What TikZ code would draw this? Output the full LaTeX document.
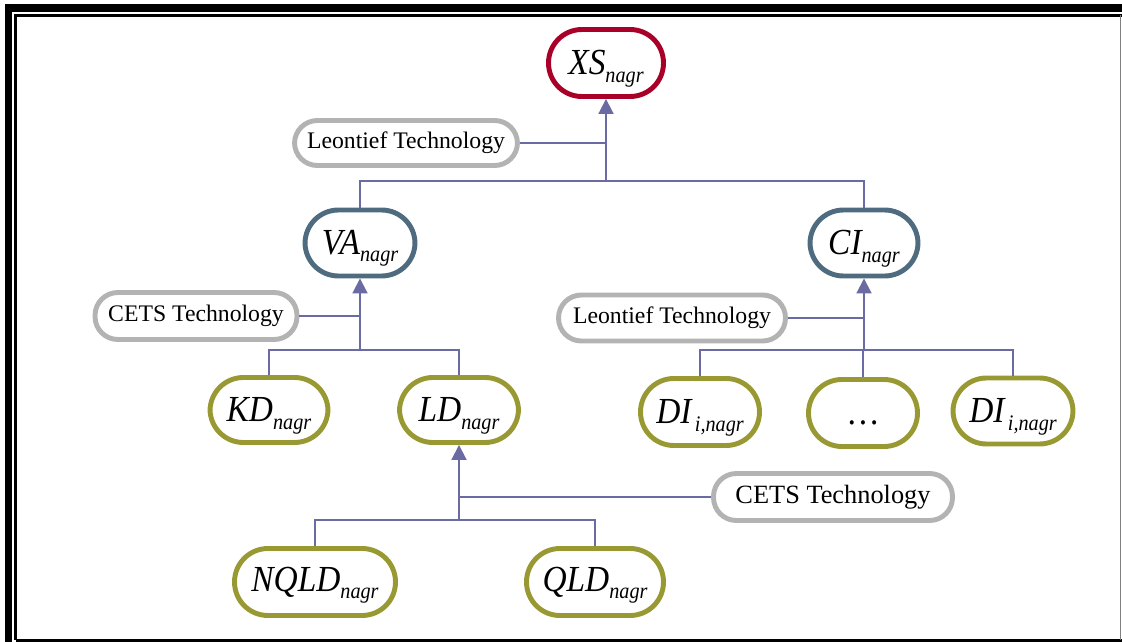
\documentclass[tikz,border=0pt]{standalone}
\usepackage{fontspec}
\setmainfont{Liberation Serif}
\usetikzlibrary{arrows.meta}
\definecolor{topred}{HTML}{A80028}
\definecolor{midblue}{HTML}{4E6B80}
\definecolor{leafolive}{HTML}{999933}
\definecolor{techgray}{HTML}{B3B3B3}
\definecolor{connline}{HTML}{6B6BA3}
\newcommand{\lbl}[2]{\fontsize{19}{22}\selectfont\itshape\scalebox{1}[1.1]{#1}\raisebox{-4pt}[0pt][0pt]{\fontsize{11.5}{13}\selectfont\scalebox{1}[1.1]{#2}}}
\begin{document}
\begin{tikzpicture}[x=0.02cm,y=-0.02cm,
  box/.style={draw,fill=white,line width=2.8pt,rounded corners=19pt,inner sep=0pt},
  redbox/.style={box,draw=topred},
  bluebox/.style={box,draw=midblue},
  olivebox/.style={box,draw=leafolive},
  techbox/.style={box,draw=techgray,rounded corners=13pt,font=\fontsize{13.5}{16}\selectfont},
  conn/.style={draw=connline,line width=1.1pt},
  up/.style={conn,-{Triangle[width=8.5pt,length=8.5pt]}}]
\useasboundingbox (0,0) rectangle (1122,642);
% frame
\draw [black,line width=4.5pt] (8.5,642) -- (8.5,8) -- (1122,8);
\draw [black,line width=1.2pt] (15.5,640) -- (15.5,15.5) -- (1122,15.5);
\draw [black,line width=1.2pt] (15.5,640.5) -- (1122,640.5);
\draw [gray,line width=0.9pt] (1120.5,15.5) -- (1120.5,640);
% nodes
\node [redbox,minimum width=2.30cm,minimum height=1.34cm] (xs) at (606,63) {\lbl{XS}{nagr}};
\node [techbox,minimum width=4.46cm,minimum height=0.90cm] (leoA) at (406,143) {Leontief Technology};
\node [bluebox,minimum width=2.20cm,minimum height=1.32cm] (va) at (360,243) {\lbl{VA}{nagr}};
\node [bluebox,minimum width=2.16cm,minimum height=1.32cm] (ci) at (864,243) {\lbl{CI}{nagr}};
\node [techbox,minimum width=4.04cm,minimum height=0.94cm] (cetsA) at (196,316) {CETS Technology};
\node [olivebox,minimum width=2.36cm,minimum height=1.30cm] (kd) at (269,410) {\lbl{KD}{nagr}};
\node [olivebox,minimum width=2.38cm,minimum height=1.30cm] (ld) at (459,410) {\lbl{LD}{nagr}};
\node [techbox,minimum width=4.54cm,minimum height=0.92cm] (leoB) at (672,318) {Leontief Technology};
\node [olivebox,minimum width=2.38cm,minimum height=1.34cm] (di1) at (700,412) {\lbl{DI}{\,i,nagr}};
\node [olivebox,minimum width=2.18cm,minimum height=1.34cm] (dots) at (863,413) {\lbl{\upshape\vphantom{X}\ldots}{}};
\node [olivebox,minimum width=2.40cm,minimum height=1.32cm] (di2) at (1013,411) {\lbl{DI}{\,i,nagr}};
\node [techbox,minimum width=4.78cm,minimum height=0.94cm,font=\fontsize{15}{18}\selectfont] (cetsB) at (833,497) {CETS Technology};
\node [olivebox,minimum width=3.22cm,minimum height=1.34cm] (nqld) at (315,582) {\lbl{NQLD}{nagr}};
\node [olivebox,minimum width=2.74cm,minimum height=1.34cm] (qld) at (595,582) {\lbl{QLD}{nagr}};
% connectors
\coordinate (busXS) at (606,181);
\draw [conn] (va.north) |- (busXS) -| (ci.north);
\draw [up] (busXS) -- (xs.south);
\draw [conn] (leoA.east) -- (leoA.east -| xs.south);
\coordinate (busVA) at (360,350);
\draw [conn] (kd.north) |- (busVA) -| (ld.north);
\draw [up] (busVA) -- (va.south);
\draw [conn] (cetsA.east) -- (cetsA.east -| va.south);
\coordinate (busCI) at (864,350);
\draw [conn] (di1.north) |- (busCI) -| (di2.north);
\draw [conn] (dots.north) -- (dots.north |- busCI);
\draw [up] (busCI) -- (ci.south);
\draw [conn] (leoB.east) -- (leoB.east -| ci.south);
\coordinate (busLD) at (459,520);
\draw [conn] (nqld.north) |- (busLD) -| (qld.north);
\draw [up] (busLD) -- (ld.south);
\draw [conn] (cetsB.west) -- (cetsB.west -| ld.south);
\end{tikzpicture}
\end{document}
